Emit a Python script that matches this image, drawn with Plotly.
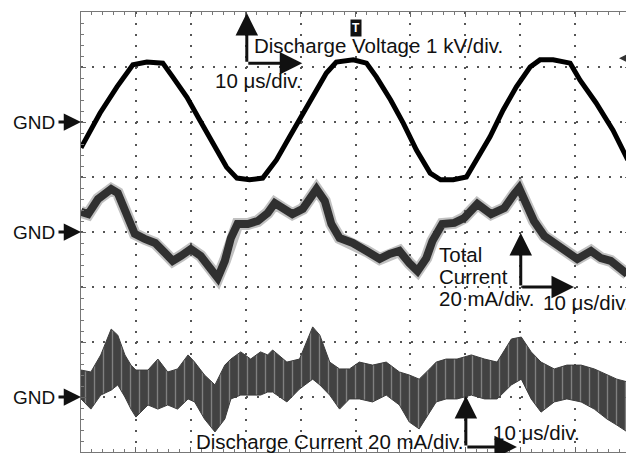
import plotly.graph_objects as go

# ---- data (time in microseconds, 10 us/div) ----
volt_t = [0, 3.45, 6.55, 9.45, 12.0, 14.9, 16.7, 19.3, 21.6, 24.0, 26.5, 28.4, 30.7, 33.1,
          35.6, 38.0, 40.4, 42.4, 44.7, 46.5, 49.6, 52.0, 53.8, 56.4, 58.7, 61.1, 63.6, 65.5,
          67.8, 70.2, 72.0, 74.5, 76.9, 79.3, 81.8, 83.6, 86.0, 89.1, 90.9, 93.8, 96.9, 99.6]
volt_kv = [-0.47, 0.16, 0.64, 1.04, 1.09, 1.07, 0.82, 0.45, 0.04, -0.38, -0.82, -1.02, -1.05, -1.02,
           -0.69, -0.27, 0.16, 0.49, 0.89, 1.09, 1.13, 1.07, 0.82, 0.40, -0.02, -0.51, -0.93, -1.05,
           -1.05, -1.00, -0.69, -0.27, 0.22, 0.64, 1.00, 1.13, 1.13, 1.07, 0.76, 0.35, -0.15, -0.69]

total_t = [0, 1.3, 3.1, 5.5, 6.7, 8.5, 9.8, 11.6, 13.5, 15.3, 16.7, 18.2, 20.0, 21.8, 23.6, 24.9,
           26.2, 27.3, 28.5, 30.4, 32.2, 34.0, 35.3, 36.7, 38.5, 40.4, 42.9, 44.4, 45.6, 47.1,
           49.5, 52.0, 54.4, 56.2, 58.0, 59.8, 61.3, 62.9, 64.0, 65.8, 68.0, 69.8, 72.2, 74.7,
           77.1, 78.9, 79.8, 81.1, 82.5, 84.4, 86.2, 88.5, 90.4, 92.9, 94.7, 96.5, 98.4, 99.5]
total_ma = [7.3, 6.5, 12.0, 15.6, 14.2, 6.5, -0.7, -2.5, -4.0, -7.6, -10.5, -8.7, -6.2, -8.7, -13.1, -16.7,
            -10.5, -2.2, 2.9, 2.9, 4.0, 6.9, 10.5, 8.7, 6.5, 8.4, 15.6, 11.3, 2.9, -2.2,
            -4.0, -6.9, -9.8, -8.0, -6.9, -11.3, -14.2, -9.5, -3.3, 2.9, 3.3, 5.1, 10.2, 6.5,
            8.7, 13.8, 16.0, 10.2, 4.0, -1.5, -4.0, -6.9, -9.8, -6.9, -9.5, -10.5, -13.1, -15.3]

disch_t = [0, 1.8, 3.6, 5.5, 6.7, 8.0, 9.1, 10.0, 12.2, 14.0, 15.8, 17.6, 19.5, 20.7, 22.5, 24.4,
           26.2, 27.3, 29.1, 30.9, 32.7, 34.0, 34.9, 37.5, 39.8, 42.2, 43.5, 45.3, 47.1, 48.9,
           50.7, 53.1, 55.6, 58.0, 59.8, 61.6, 63.5, 64.7, 66.5, 68.5, 71.1, 73.5, 75.8, 78.4,
           80.2, 82.0, 83.8, 86.2, 88.5, 91.1, 93.5, 95.8, 97.6, 99.5]
disch_hi_ma = [9.8, 9.1, 15.3, 24.7, 22.5, 15.3, 11.6, 9.8, 9.8, 13.8, 9.1, 10.2, 15.3, 12.7, 8.0, 4.4,
               11.6, 13.8, 16.4, 13.8, 16.4, 15.3, 17.1, 12.7, 13.8, 25.5, 22.5, 12.7, 10.2, 10.2,
               12.7, 11.6, 12.7, 9.1, 8.0, 6.5, 10.2, 12.7, 13.8, 13.8, 15.3, 13.8, 12.7, 21.1,
               21.8, 16.4, 12.7, 10.2, 11.6, 11.6, 10.2, 8.0, 6.5, 5.5]
disch_lo_ma = [-0.7, -4.4, 0.7, 2.5, 4.4, 0.0, -4.4, -7.3, -2.9, -4.4, -2.9, -4.4, -0.7, -1.8, -8.0, -12.7,
               -8.0, -0.7, 0.7, 0.7, 0.7, 1.8, 1.8, -1.8, 2.9, 6.5, 4.4, 0.7, -4.4, -0.7,
               -0.7, -1.8, 0.7, -2.9, -9.1, -11.6, -5.5, -1.8, -0.7, -0.7, 0.7, -0.7, -0.7, 4.4,
               6.5, -0.7, -5.5, -1.8, -0.7, -1.8, -4.4, -8.0, -10.2, -12.7]

# screen settings: ground positions (div) and scales
gnd_volt, gnd_total, gnd_disch = 6, 4, 1
kv_per_div, ma_per_div = 1.0, 20.0

FONT = "Arial, Liberation Sans, sans-serif"

fig = go.Figure()

# voltage trace
fig.add_trace(go.Scatter(x=volt_t, y=[gnd_volt + v / kv_per_div for v in volt_kv],
                         mode="lines", line=dict(color="#000", width=5), hoverinfo="skip"))

# total current (noisy band)
tot_y = [gnd_total + v / ma_per_div for v in total_ma]
fig.add_trace(go.Scatter(x=total_t, y=tot_y, mode="lines",
                         line=dict(color="rgba(100,100,100,0.4)", width=12), hoverinfo="skip"))
fig.add_trace(go.Scatter(x=total_t, y=tot_y, mode="lines",
                         line=dict(color="#303030", width=8), hoverinfo="skip"))

# discharge current (spiky band between envelopes)
fig.add_trace(go.Scatter(x=disch_t, y=[gnd_disch + v / ma_per_div for v in disch_lo_ma],
                         mode="lines", line=dict(color="#3c3c3c", width=1), hoverinfo="skip"))
fig.add_trace(go.Scatter(x=disch_t, y=[gnd_disch + v / ma_per_div for v in disch_hi_ma],
                         mode="lines", line=dict(color="#3c3c3c", width=1), fill="tonexty",
                         fillcolor="#424242",
                         fillpattern=dict(shape="|", bgcolor="#424242", fgcolor="#bdbdbd",
                                          size=9, solidity=0.15),
                         hoverinfo="skip"))

axis_common = dict(showticklabels=False, showline=True, linecolor="#777", linewidth=1,
                   mirror="allticks", ticks="inside", ticklen=5, tickcolor="#666",
                   showgrid=True, gridcolor="#555", gridwidth=1.5, griddash="2px,9px",
                   zeroline=False, fixedrange=True, automargin=False)
fig.update_xaxes(range=[0, 100], dtick=10, tick0=0,
                 minor=dict(dtick=2, ticks="inside", ticklen=3, tickcolor="#777", showgrid=False),
                 **axis_common)
fig.update_yaxes(range=[0, 8], dtick=1, tick0=0,
                 minor=dict(dtick=0.2, ticks="inside", ticklen=3, tickcolor="#777", showgrid=False),
                 **axis_common)

ann = []
def text(x, y, s, anchor="left", size=20.5, xref="x", yref="y"):
    ann.append(dict(x=x, y=y, xref=xref, yref=yref, text=s, showarrow=False,
                    xanchor=anchor, yanchor="middle", font=dict(family=FONT, size=size, color="#111")))

def arrow(x0, y0, x1, y1, width=3, size=1.5):
    ann.append(dict(x=x1, y=y1, ax=x0, ay=y0, xref="x", yref="y", axref="x", ayref="y",
                    text="", showarrow=True, arrowhead=2, arrowsize=size, arrowwidth=width,
                    arrowcolor="#111", standoff=0, startstandoff=0))

# GND labels
for g in (gnd_volt, gnd_total, gnd_disch):
    text(-0.043, g, "GND", anchor="right", size=19, xref="paper")
    ann.append(dict(x=0, y=g, xref="paper", yref="y", ax=-24, ay=0, text="", showarrow=True,
                    arrowhead=2, arrowsize=1.15, arrowwidth=3, arrowcolor="#111",
                    standoff=0, startstandoff=0))

# voltage scale indicator
arrow(30.2, 7.07, 30.2, 7.98)
arrow(30.2, 7.07, 40.3, 7.07)
text(31.2, 7.4, "Discharge Voltage 1 kV/div.")
text(24.0, 6.75, "10 \u03bcs/div.")

# total current indicator
arrow(80.1, 3.0, 80.1, 3.98)
arrow(80.1, 3.0, 89.8, 3.0)
text(64.8, 3.6, "Total")
text(64.8, 3.2, "Current")
text(64.8, 2.8, "20 mA/div.")
text(83.8, 2.72, "10 \u03bcs/div.")

# discharge current indicator
arrow(70.1, 0.09, 70.1, 1.02)
arrow(70.1, 0.09, 79.4, 0.09)
text(20.6, 0.2, "Discharge Current 20 mA/div.")
text(74.7, 0.35, "10 \u03bcs/div.")

# trigger marker and level marker
ann.append(dict(x=50.1, y=8.02, xref="x", yref="y", text="\u25bc", showarrow=False,
                yanchor="top", font=dict(size=9, color="#111")))
ann.append(dict(x=50.1, y=7.88, xref="x", yref="y", text="<b>T</b>", showarrow=False,
                yanchor="top", bgcolor="#111", borderpad=1,
                font=dict(family=FONT, size=12, color="#fff")))
ann.append(dict(x=98.0, y=7.16, ax=100, ay=7.16, xref="x", yref="y", axref="x", ayref="y",
                text="", showarrow=True, arrowhead=2, arrowsize=1.3, arrowwidth=1.5,
                arrowcolor="#333", standoff=0, startstandoff=0))

# page body has an 8px margin: figure is sized so that the plot area lands at
# x 81..630, y 12..452 in the 634x453 window
fig.update_layout(width=626, height=445, margin=dict(l=73, r=4, t=4, b=1),
                  paper_bgcolor="white", plot_bgcolor="white", showlegend=False,
                  annotations=ann)

fig.write_html("out.html")
